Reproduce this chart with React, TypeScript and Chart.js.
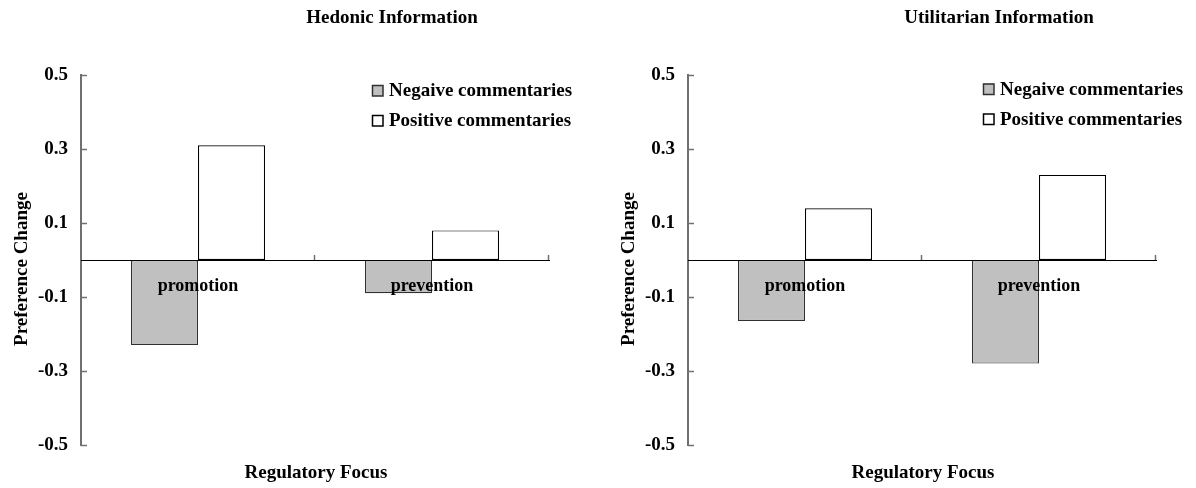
import React, { useEffect, useRef } from "react";
import { Chart, registerables } from "chart.js";

Chart.register(...registerables);

// ---------- data ----------
const categories = ["promotion", "prevention"];
const seriesNames = ["Negaive commentaries", "Positive commentaries"];
const hedonicNegative = [-0.23, -0.09];
const hedonicPositive = [0.31, 0.08];
const utilitarianNegative = [-0.165, -0.28];
const utilitarianPositive = [0.14, 0.23];
const yTickValues = [-0.5, -0.3, -0.1, 0.1, 0.3, 0.5];
const panelTitles = ["Hedonic Information", "Utilitarian Information"];
const xAxisTitle = "Regulatory Focus";
const yAxisTitle = "Preference Change";

const FAMILY = '"Liberation Serif", "Times New Roman", serif';
const NEG_FILL = "#c0c0c0";
const NEG_BORDER = "#303030";
const POS_FILL = "#ffffff";
const POS_BORDER = "#000000";
const AXIS_GRAY = "#707070";

const decorPlugin = {
  id: "decor",
  afterDraw(chart: any, _args: any, opts: any) {
    const { ctx, chartArea, scales } = chart;
    const y = scales.y;
    const x = scales.x;
    ctx.save();

    // inner ticks on the value axis
    ctx.strokeStyle = AXIS_GRAY;
    ctx.lineWidth = 1.5;
    y.ticks.forEach((t: any) => {
      const py = Math.round(y.getPixelForValue(t.value)) + 0.5;
      ctx.beginPath();
      ctx.moveTo(chartArea.left, py);
      ctx.lineTo(chartArea.left + 6, py);
      ctx.stroke();
    });

    // upward tick marks at category boundaries
    const zeroY = Math.round(y.getPixelForValue(0));
    for (let i = 1; i <= categories.length; i++) {
      const px = Math.round(x.getPixelForValue(i - 0.5)) - 0.5;
      ctx.beginPath();
      ctx.moveTo(px, zeroY);
      ctx.lineTo(px, zeroY - 5);
      ctx.stroke();
    }

    // panel title
    ctx.fillStyle = "#000";
    ctx.font = `bold 19px ${FAMILY}`;
    ctx.textAlign = "center";
    ctx.textBaseline = "alphabetic";
    ctx.fillText(opts.title, chartArea.left + 311, 23);

    // x-axis title
    ctx.fillText(xAxisTitle, (chartArea.left + chartArea.right) / 2 + 1, 478);

    // y-axis title
    ctx.save();
    ctx.translate(27, 269);
    ctx.rotate(-Math.PI / 2);
    ctx.font = `bold 19px ${FAMILY}`;
    ctx.fillText(yAxisTitle, 0, 0);
    ctx.restore();

    // legend
    ctx.font = `bold 19px ${FAMILY}`;
    ctx.textAlign = "left";
    ctx.textBaseline = "middle";
    chart.data.datasets.forEach((ds: any, i: number) => {
      const cy = opts.legendY + i * 30;
      const bx = opts.legendX;
      ctx.fillStyle = ds.backgroundColor;
      ctx.fillRect(bx, cy - 5.5, 11, 11);
      ctx.strokeStyle = ds.borderColor;
      ctx.lineWidth = 1.5;
      ctx.strokeRect(bx + 0.5, cy - 5, 10.5, 10.5);
      ctx.fillStyle = "#000";
      ctx.fillText(ds.label, bx + 17, cy + 1);
    });

    ctx.restore();
  },
};

function makeConfig(neg: number[], pos: number[], title: string, rightPad: number, legendX: number, legendY: number): any {
  return {
    type: "bar",
    data: {
      labels: categories,
      datasets: [
        {
          label: seriesNames[0],
          data: neg,
          backgroundColor: NEG_FILL,
          borderColor: NEG_BORDER,
          borderWidth: 1.2,
          borderSkipped: false,
          categoryPercentage: 0.573,
          barPercentage: 1,
        },
        {
          label: seriesNames[1],
          data: pos,
          backgroundColor: POS_FILL,
          borderColor: POS_BORDER,
          borderWidth: 1.2,
          borderSkipped: false,
          categoryPercentage: 0.573,
          barPercentage: 1,
        },
      ],
    },
    options: {
      responsive: false,
      animation: false,
      devicePixelRatio: 1,
      layout: { padding: { top: 75, bottom: 43, left: 0, right: rightPad } },
      plugins: {
        legend: { display: false },
        title: { display: false },
        tooltip: { enabled: false },
        decor: { title, legendX, legendY },
      },
      scales: {
        x: {
          type: "category",
          position: { y: 0 },
          grid: { display: false, drawTicks: false },
          border: { display: true, color: "#000", width: 1, z: 1 },
          ticks: {
            z: 1,
            color: "#000",
            padding: 16,
            font: { family: FAMILY, size: 18, weight: "bold" },
          },
        },
        y: {
          type: "linear",
          min: -0.5,
          max: 0.5,
          afterBuildTicks: (s: any) => {
            s.ticks = yTickValues.map((v) => ({ value: v }));
          },
          afterFit: (s: any) => {
            s.width = 81;
          },
          grid: { display: false, drawTicks: false },
          border: { display: true, color: AXIS_GRAY, width: 2 },
          ticks: {
            color: "#000",
            padding: 13,
            font: { family: FAMILY, size: 19, weight: "bold" },
            callback: (v: any) => Number(v).toFixed(1),
          },
        },
      },
    },
    plugins: [decorPlugin],
  };
}

function Panel(props: { neg: number[]; pos: number[]; title: string; left: number; width: number; legendX: number; legendY: number }) {
  const ref = useRef<HTMLCanvasElement | null>(null);
  useEffect(() => {
    if (!ref.current) return;
    const chart = new Chart(
      ref.current,
      makeConfig(props.neg, props.pos, props.title, props.width - 549, props.legendX, props.legendY)
    );
    return () => chart.destroy();
  }, []);
  return (
    <canvas
      ref={ref}
      width={props.width}
      height={488}
      style={{ position: "absolute", left: props.left, top: 0, width: props.width, height: 488 }}
    />
  );
}

export default function App() {
  return (
    <div style={{ position: "absolute", left: 0, top: 0, width: 1196, height: 488, background: "#fff" }}>
      <Panel neg={hedonicNegative} pos={hedonicPositive} title={panelTitles[0]} left={0} width={607} legendX={372} legendY={90.5} />
      <Panel neg={utilitarianNegative} pos={utilitarianPositive} title={panelTitles[1]} left={607} width={589} legendX={376} legendY={89} />
    </div>
  );
}
